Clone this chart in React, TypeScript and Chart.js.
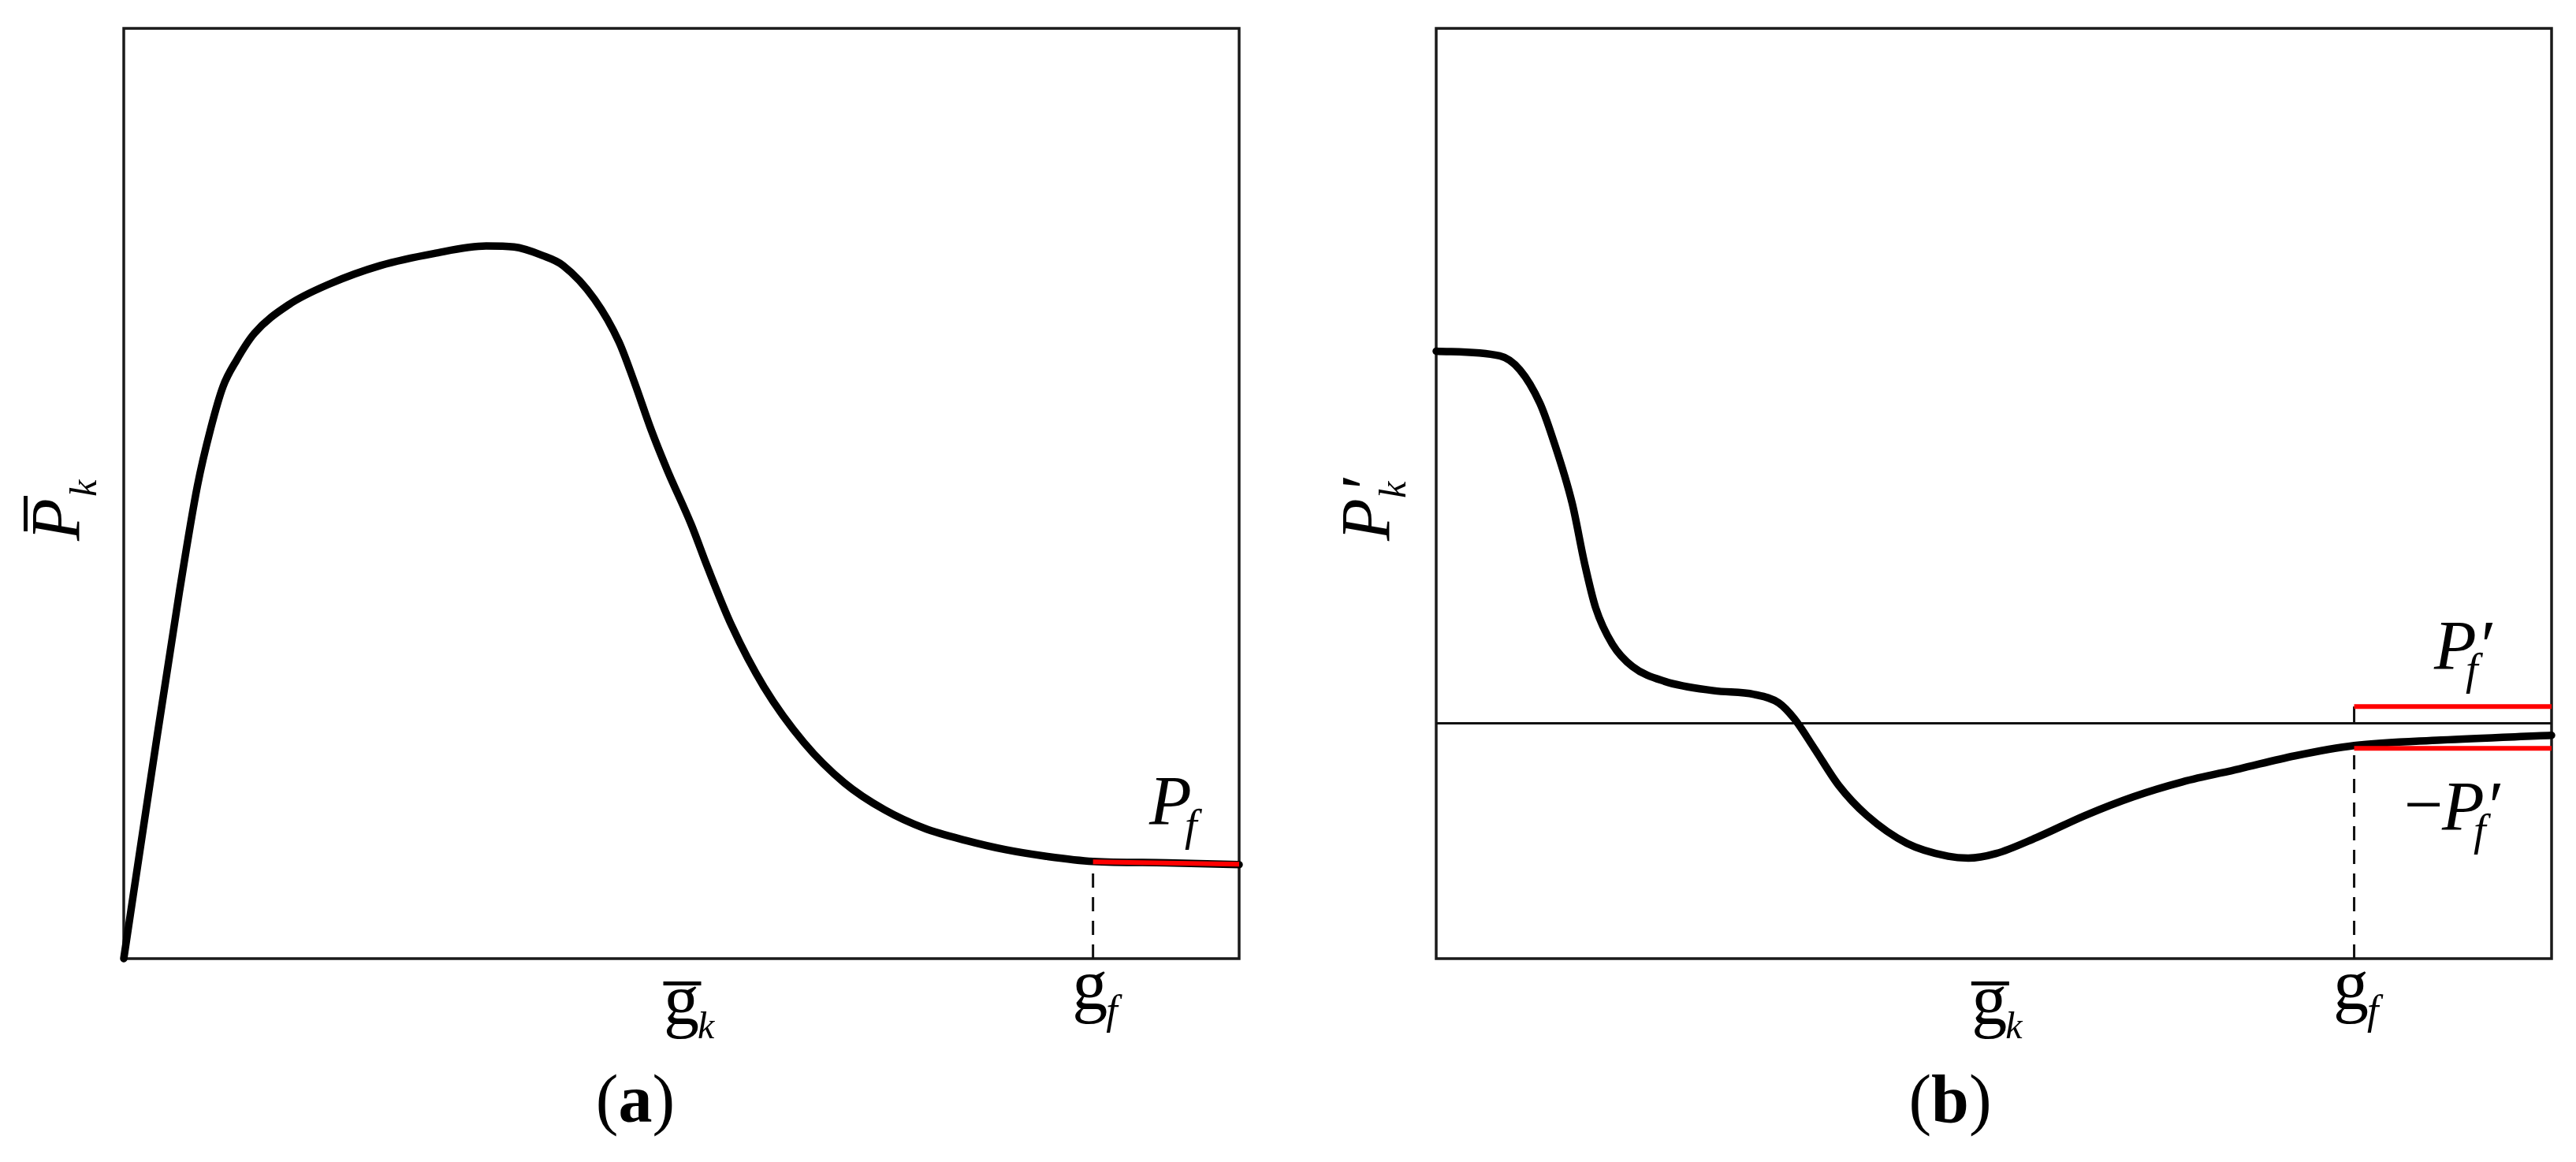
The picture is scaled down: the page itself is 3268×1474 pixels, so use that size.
import React, { useEffect, useRef } from "react";
import { Chart, registerables } from "chart.js";

Chart.register(...registerables);

// ---------- data (normalised units) ----------
// Panel (a): mean load curve
const A_X = [0, 2.5, 5, 6.6, 7.8, 8.9, 10.1, 11.7, 14.8, 18.4, 23, 27.8, 32.5, 35, 37.5, 39.4, 42.2, 44.4, 45.8, 47.3, 48.7, 50.9, 52.3, 54.5, 57.4, 61, 64.6, 68.2, 71.8, 75.5, 79.1, 82.7, 86.9, 93.5, 100];
const A_Y = [0, 20, 39.5, 50.8, 57, 61.5, 64.3, 67.2, 70.3, 72.5, 74.5, 75.8, 76.6, 76.5, 75.6, 74.5, 70.9, 66.3, 61.9, 56.8, 52.6, 46.6, 42.2, 35.8, 29.2, 23.2, 18.9, 16.0, 14.0, 12.7, 11.7, 11.0, 10.45, 10.3, 10.1];
const A_TICKS = [50.0, 86.9]; // g_k, g_f
const A_PF = [10.4, 10.15]; // red segment from g_f to the end
const A_RANGE_Y = [0, 100];

// Panel (b): derivative curve
const B_X = [0, 5.7, 7.5, 9.3, 10.4, 12.2, 13.3, 14.3, 15.8, 17.6, 20.5, 24.9, 28.5, 30.7, 32.1, 33.9, 36.1, 38.6, 42.2, 45.9, 47.7, 50.2, 53.8, 58.2, 62.5, 66.9, 72, 77, 82.3, 90.1, 100];
const B_Y = [40, 39.5, 38, 34.4, 30.8, 23.6, 17.2, 12.4, 8.5, 6.1, 4.5, 3.5, 3.1, 2.2, 0.5, -2.7, -6.7, -9.9, -12.9, -14.3, -14.5, -14, -12.3, -9.9, -7.9, -6.3, -4.9, -3.5, -2.4, -1.8, -1.3];
const B_TICKS = [49.6, 82.3]; // g_k, g_f
const B_PF = [1.8, -2.7]; // +P'_f, -P'_f
const B_RANGE_Y = [-25.3, 74.7];

const FONT = '"Liberation Serif", "Times New Roman", serif';

function pts(xs: number[], ys: number[]) {
  return xs.map((x, i) => ({ x, y: ys[i] }));
}

function txt(ctx: CanvasRenderingContext2D, s: string, x: number, y: number, size: number, style = "italic", weight = "normal") {
  ctx.font = `${style} ${weight} ${size}px ${FONT}`;
  ctx.textAlign = "left";
  ctx.textBaseline = "alphabetic";
  ctx.fillStyle = "#000";
  ctx.fillText(s, x, y);
  return ctx.measureText(s).width;
}

const framePlugin = {
  id: "frame",
  beforeDatasetsDraw(chart: any) {
    const { ctx, chartArea: a } = chart;
    ctx.save();
    ctx.strokeStyle = "#1a1a1a";
    ctx.lineWidth = 3.5;
    ctx.strokeRect(a.left, a.top, a.right - a.left, a.bottom - a.top);
    ctx.restore();
  },
};

function gBar(ctx: CanvasRenderingContext2D, cx: number) {
  // g with overbar, subscript k ; cx = centre of g
  ctx.font = `normal 90px ${FONT}`;
  const w = ctx.measureText("g").width;
  txt(ctx, "g", cx - w / 2, 1299, 90, "normal");
  ctx.fillRect(cx - 23, 1245, 48, 5);
  txt(ctx, "k", cx + w / 2 - 2, 1317, 48);
}

function gF(ctx: CanvasRenderingContext2D, cx: number) {
  ctx.font = `normal 90px ${FONT}`;
  const w = ctx.measureText("g").width;
  txt(ctx, "g", cx - w / 2 - 4, 1280, 90, "normal");
  txt(ctx, "f", cx + w / 2 - 6, 1299, 52);
}

function caption(ctx: CanvasRenderingContext2D, letter: string, cx: number) {
  ctx.font = `normal 86px ${FONT}`;
  const wp = ctx.measureText("(").width;
  ctx.font = `bold 86px ${FONT}`;
  const wl = ctx.measureText(letter).width;
  const total = wp * 2 + wl;
  let x = cx - total / 2;
  x += txt(ctx, "(", x, 1423, 86, "normal");
  x += txt(ctx, letter, x, 1423, 86, "normal", "bold");
  txt(ctx, ")", x, 1423, 86, "normal");
}

function makeLabelsA(offset: number) {
  return {
    id: "labelsA",
    afterDraw(chart: any) {
      const ctx = chart.ctx as CanvasRenderingContext2D;
      const xs = chart.scales.x;
      ctx.save();
      gBar(ctx, xs.getPixelForValue(A_TICKS[0]));
      gF(ctx, xs.getPixelForValue(A_TICKS[1]));
      // P_f
      txt(ctx, "P", 1458 - offset, 1045, 88);
      txt(ctx, "f", 1503 - offset, 1066, 56);
      // y title: P bar k (rotated)
      ctx.save();
      ctx.translate(100 - offset, 682);
      ctx.rotate(-Math.PI / 2);
      txt(ctx, "P", -4, 0, 88);
      ctx.fillRect(8, -70, 45, 5);
      txt(ctx, "k", 52, 22, 48);
      ctx.restore();
      caption(ctx, "a", 806 - offset);
      ctx.restore();
    },
  };
}

function makeLabelsB(offset: number) {
  return {
    id: "labelsB",
    afterDraw(chart: any) {
      const ctx = chart.ctx as CanvasRenderingContext2D;
      const xs = chart.scales.x;
      ctx.save();
      gBar(ctx, xs.getPixelForValue(B_TICKS[0]));
      gF(ctx, xs.getPixelForValue(B_TICKS[1]));
      // P'_f
      txt(ctx, "P", 3088 - offset, 848, 88);
      txt(ctx, "\u2032", 3142 - offset, 848, 88);
      txt(ctx, "f", 3128 - offset, 868, 56);
      // -P'_f
      txt(ctx, "\u2212", 3050 - offset, 1050, 88, "normal");
      txt(ctx, "P", 3098 - offset, 1052, 88);
      txt(ctx, "\u2032", 3152 - offset, 1052, 88);
      txt(ctx, "f", 3138 - offset, 1072, 56);
      // y title P'_k
      ctx.save();
      ctx.translate(1762 - offset, 682);
      ctx.rotate(-Math.PI / 2);
      txt(ctx, "P", -4, 0, 88);
      txt(ctx, "\u2032", 56, 0, 88);
      txt(ctx, "k", 50, 21, 48);
      ctx.restore();
      caption(ctx, "b", 2474 - offset);
      ctx.restore();
    },
  };
}

function baseOptions(pad: any, yr: number[]) {
  return {
    responsive: false,
    animation: false as const,
    layout: { padding: pad },
    plugins: { legend: { display: false }, tooltip: { enabled: false } },
    elements: { point: { radius: 0 } },
    scales: {
      x: { type: "linear" as const, min: 0, max: 100, display: false },
      y: { type: "linear" as const, min: yr[0], max: yr[1], display: false },
    },
  };
}

export default function App() {
  const refA = useRef<HTMLCanvasElement>(null);
  const refB = useRef<HTMLCanvasElement>(null);

  useEffect(() => {
    const chartA = new Chart(refA.current!, {
      type: "line",
      data: {
        datasets: [
          {
            data: [{ x: A_TICKS[1], y: A_PF[0] }, { x: 100, y: A_PF[1] }],
            borderColor: "#ff0000",
            borderWidth: 6,
            clip: false,
          },
          {
            data: pts(A_X, A_Y),
            borderColor: "#000",
            borderWidth: 9.5,
            cubicInterpolationMode: "monotone",
            borderCapStyle: "round",
            borderJoinStyle: "round",
            clip: false,
          },
          {
            data: [{ x: A_TICKS[1], y: A_RANGE_Y[0] }, { x: A_TICKS[1], y: A_PF[0] }],
            borderColor: "#111",
            borderWidth: 3,
            borderDash: [18, 12],
            clip: false,
          },
        ],
      },
      options: baseOptions({ left: 157, right: 68, top: 36, bottom: 258 }, A_RANGE_Y) as any,
      plugins: [framePlugin, makeLabelsA(0)],
    });

    const chartB = new Chart(refB.current!, {
      type: "line",
      data: {
        datasets: [
          {
            data: [{ x: B_TICKS[1], y: B_PF[0] }, { x: 100, y: B_PF[0] }],
            borderColor: "#ff0000",
            borderWidth: 6,
            clip: false,
          },
          {
            data: [{ x: B_TICKS[1], y: B_PF[1] }, { x: 100, y: B_PF[1] }],
            borderColor: "#ff0000",
            borderWidth: 6,
            clip: false,
          },
          {
            data: pts(B_X, B_Y),
            borderColor: "#000",
            borderWidth: 9.5,
            cubicInterpolationMode: "monotone",
            borderCapStyle: "round",
            borderJoinStyle: "round",
            clip: false,
          },
          {
            data: [{ x: 0, y: 0 }, { x: 100, y: 0 }],
            borderColor: "#111",
            borderWidth: 3,
            clip: false,
          },
          {
            data: [{ x: B_TICKS[1], y: 0 }, { x: B_TICKS[1], y: B_PF[0] }],
            borderColor: "#111",
            borderWidth: 3,
            clip: false,
          },
          {
            data: [{ x: B_TICKS[1], y: B_RANGE_Y[0] }, { x: B_TICKS[1], y: B_PF[1] }],
            borderColor: "#111",
            borderWidth: 3,
            borderDash: [18, 12],
            clip: false,
          },
        ],
      },
      options: baseOptions({ left: 182, right: 31, top: 36, bottom: 258 }, B_RANGE_Y) as any,
      plugins: [framePlugin, makeLabelsB(1640)],
    });

    return () => {
      chartA.destroy();
      chartB.destroy();
    };
  }, []);

  return (
    <div style={{ position: "absolute", left: 0, top: 0, width: 3268, height: 1474, background: "#fff", overflow: "hidden" }}>
      <canvas ref={refA} width={1640} height={1474} style={{ position: "absolute", left: 0, top: 0, width: 1640, height: 1474 }} />
      <canvas ref={refB} width={1628} height={1474} style={{ position: "absolute", left: 1640, top: 0, width: 1628, height: 1474 }} />
    </div>
  );
}
